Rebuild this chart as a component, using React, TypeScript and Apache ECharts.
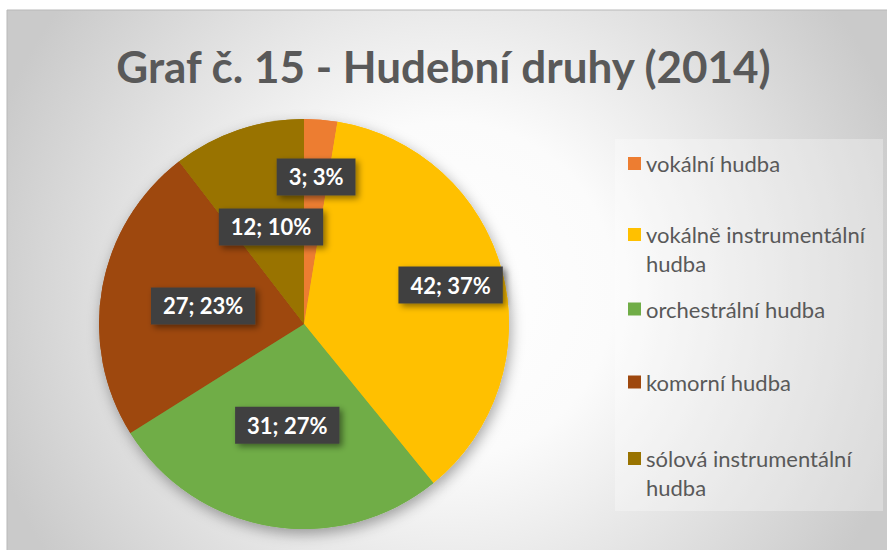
import React, { useEffect, useRef } from "react";
import * as echarts from "echarts";

const titleText = "Graf č. 15 - Hudební druhy (2014)";
const categories = [
  "vokální hudba",
  "vokálně instrumentální hudba",
  "orchestrální hudba",
  "komorní hudba",
  "sólová instrumentální hudba",
];
const values = [3, 42, 31, 27, 12];
const colors = ["#ED7D31", "#FFC000", "#70AD47", "#9E480E", "#997300"];

// layout constants (not data)
const pieCenter = [304, 324];
const pieRadius = 205;
const labelRadius = [0.72, 0.74, 0.5, 0.5, 0.5];
const legendMarkerCenters = [163.5, 234.5, 309, 382, 458.5];
const legendLineHeight = 29;
const FONT = "Lato";

export default function App() {
  const ref = useRef<HTMLDivElement>(null);

  useEffect(() => {
    if (!ref.current) return;
    const chart = echarts.init(ref.current, undefined, { renderer: "svg" });

    const tallIcon = "path://M0,0L13,0L13,13L0,13Z M0,42";
    const total = values.reduce((a, b) => a + b, 0);
    const midAngles: number[] = [];
    let cum = 0;
    values.forEach((v) => {
      midAngles.push(((cum + v / 2) / total) * Math.PI * 2);
      cum += v;
    });

    const legends = categories.map((name, i) => {
      const twoLine = name.length > 24;
      return {
        orient: "vertical",
        left: 628,
        top: legendMarkerCenters[i] - legendLineHeight / 2,
        padding: 0,
        selectedMode: false,
        itemWidth: 13,
        itemHeight: twoLine ? 42 : 13,
        itemStyle: { borderWidth: 0 },
        data: [{ name, icon: twoLine ? tallIcon : "rect" }],
        formatter: (n: string) =>
          n.length > 24 ? n.replace(/ (\S+)$/, "\n$1") : n,
        textStyle: {
          color: "#595959",
          fontSize: 22,
          fontFamily: FONT,
          lineHeight: legendLineHeight,
        },
      };
    });

    const data = categories.map((name, i) => ({
      name,
      value: values[i],
      itemStyle: { color: colors[i] },
    }));

    chart.setOption({
      animation: false,
      title: {
        text: titleText,
        left: "center",
        top: 39,
        textStyle: {
          fontSize: 44,
          fontWeight: "bold",
          color: "#595959",
          fontFamily: FONT,
        },
      },
      graphic: [
        {
          type: "rect",
          z: -10,
          silent: true,
          shape: { x: 7, y: 10, width: 900, height: 560 },
          style: {
            fill: {
              type: "radial",
              x: 447,
              y: 290,
              r: 480,
              global: true,
              colorStops: [
                { offset: 0, color: "#ffffff" },
                { offset: 0.35, color: "#fbfbfb" },
                { offset: 1, color: "#cacaca" },
              ],
            },
            stroke: "#b8b8b8",
            lineWidth: 1,
          },
        },
        {
          type: "rect",
          z: -9,
          silent: true,
          shape: { x: 615, y: 139, width: 268, height: 372 },
          style: { fill: "rgba(255,255,255,0.3)" },
        },
      ],
      legend: legends,
      series: [
        {
          type: "pie",
          silent: true,
          z: 1,
          center: pieCenter,
          radius: pieRadius,
          startAngle: 90,
          clockwise: true,
          label: { show: false },
          labelLine: { show: false },
          emphasis: { disabled: true },
          itemStyle: {
            borderWidth: 0,
            shadowBlur: 14,
            shadowOffsetX: 2,
            shadowOffsetY: 5,
            shadowColor: "rgba(0,0,0,0.35)",
          },
          data,
        },
        {
          type: "pie",
          z: 2,
          center: pieCenter,
          radius: pieRadius,
          startAngle: 90,
          clockwise: true,
          percentPrecision: 0,
          emphasis: { disabled: true },
          itemStyle: { borderWidth: 0 },
          labelLine: { show: false },
          label: {
            show: true,
            position: "inside",
            formatter: "{c}; {d}%",
            color: "#ffffff",
            fontSize: 22,
            fontWeight: "bold",
            fontFamily: FONT,
            backgroundColor: "#404040",
            padding: [8, 12, 7, 12],
            shadowColor: "rgba(0,0,0,0.45)",
            shadowBlur: 6,
            shadowOffsetX: 3,
            shadowOffsetY: 3,
          },
          labelLayout: (params: any) => {
            if (params.seriesIndex !== 1) return {};
            const i = params.dataIndex;
            const a = midAngles[i];
            const d = pieRadius * labelRadius[i];
            return {
              x: pieCenter[0] + d * Math.sin(a),
              y: pieCenter[1] - d * Math.cos(a),
              align: "center",
              verticalAlign: "middle",
            };
          },
          data,
        },
      ],
    });

    return () => chart.dispose();
  }, []);

  return (
    <div
      ref={ref}
      style={{ position: "absolute", left: 0, top: 0, width: 887, height: 550 }}
    />
  );
}
